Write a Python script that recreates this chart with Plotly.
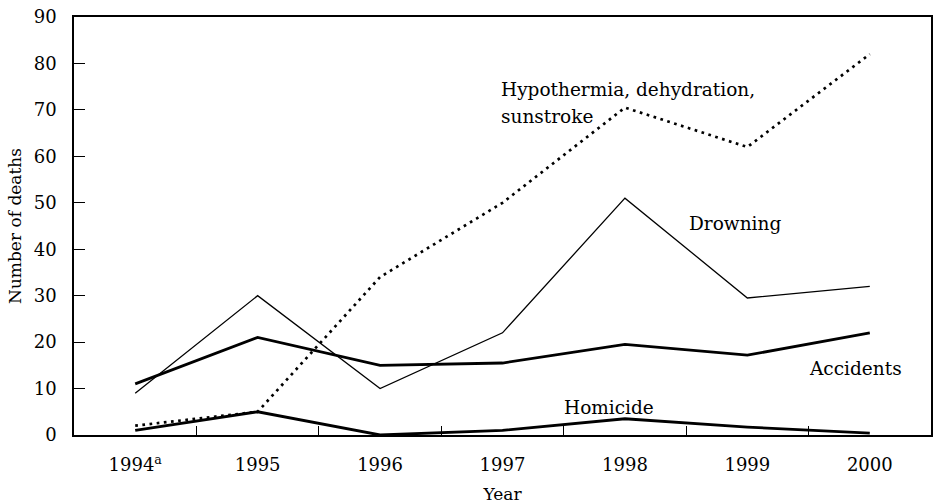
import plotly.graph_objects as go

years = ["1994<sup>a</sup>", "1995", "1996", "1997", "1998", "1999", "2000"]
hypothermia = [2, 5, 34, 50, 70.5, 62, 82]
drowning = [9, 30, 10, 22, 51, 29.5, 32]
accidents = [11, 21, 15, 15.5, 19.5, 17.2, 22]
homicide = [1, 5, 0, 1, 3.5, 1.7, 0.4]

FONT = "DejaVu Serif"

fig = go.Figure()
fig.add_trace(go.Scatter(x=years, y=drowning, mode="lines",
                         line=dict(color="black", width=1.3), name="Drowning"))
fig.add_trace(go.Scatter(x=years, y=accidents, mode="lines",
                         line=dict(color="black", width=2.8), name="Accidents"))
fig.add_trace(go.Scatter(x=years, y=homicide, mode="lines",
                         line=dict(color="black", width=2.8), name="Homicide"))
fig.add_trace(go.Scatter(x=years, y=hypothermia, mode="lines",
                         line=dict(color="black", width=2.7, dash="2.7px,4.5px"),
                         name="Hypothermia, dehydration, sunstroke"))

annots = [
    ("Hypothermia, dehydration,", 2.97, 74.4),
    ("sunstroke", 2.97, 68.6),
    ("Drowning", 4.51, 45.6),
    ("Accidents", 5.49, 14.4),
    ("Homicide", 3.49, 5.9),
]
for text, x, y in annots:
    fig.add_annotation(x=x, y=y, xref="x", yref="y", text=text, showarrow=False,
                       xanchor="left", yanchor="middle",
                       font=dict(family=FONT, size=18.5, color="black"))

fig.update_layout(
    width=933, height=504,
    margin=dict(l=74, r=2, t=17, b=69),
    paper_bgcolor="white", plot_bgcolor="white",
    showlegend=False,
    font=dict(family=FONT, size=18, color="black"),
)
fig.update_xaxes(
    type="category", range=[-0.5, 6.5], automargin=False,
    tickson="boundaries", ticks="inside", ticklen=9, tickwidth=1.2, tickcolor="black",
    showline=True, linecolor="black", linewidth=1.5, mirror=True,
    showgrid=False, zeroline=False,
    ticklabelstandoff=13,
    title=dict(text="Year", font=dict(family=FONT, size=17), standoff=18),
    tickfont=dict(family=FONT, size=18),
)
fig.update_yaxes(
    range=[0, 90], tickvals=list(range(0, 91, 10)), automargin=False,
    ticks="inside", ticklen=11, tickwidth=1.2, tickcolor="black",
    showline=True, linecolor="black", linewidth=1.5, mirror=True,
    showgrid=False, zeroline=False,
    ticklabelstandoff=12,
    title=dict(text="Number of deaths", font=dict(family=FONT, size=17), standoff=8),
    tickfont=dict(family=FONT, size=18),
)

fig.write_html(
    "out.html",
    config={"displayModeBar": False},
    post_script="document.body.style.margin='0';document.body.style.overflow='hidden';",
)
